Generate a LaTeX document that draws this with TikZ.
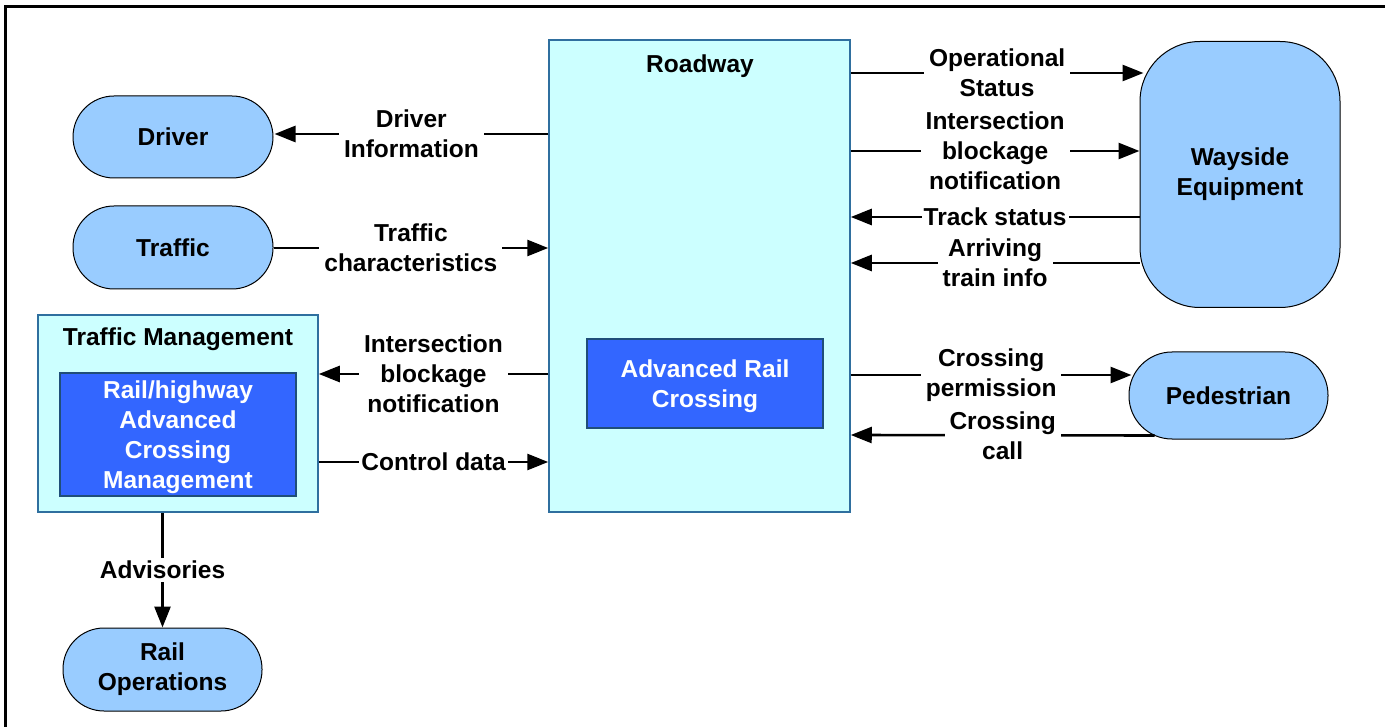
\documentclass[tikz,border=0pt]{standalone}
\usepackage{fontspec}
\setmainfont{Liberation Sans}
\usetikzlibrary{arrows.meta,calc}
\definecolor{pillfill}{HTML}{99CCFF}
\definecolor{paleaqua}{HTML}{CCFFFF}
\definecolor{royal}{HTML}{3366FF}
\definecolor{edgeblue}{HTML}{1F4E79}
\definecolor{boxedge}{HTML}{2F6F9F}

\tikzset{
  txt/.style={font=\bfseries\fontsize{24.5}{30}\selectfont, align=center},
  pillbox/.style={txt, draw=black, line width=1pt, fill=pillfill,
    rounded corners=#1, minimum width=200pt, inner sep=0pt},
  outerbox/.style={draw=boxedge, line width=1.5pt, fill=paleaqua, inner sep=0pt},
  innerbox/.style={txt, text=white, draw=edgeblue, line width=2pt, fill=royal, inner sep=0pt},
  flow/.style={line width=2.6pt, -{Triangle[length=21pt,width=16pt]}},
  lbl/.style={txt, fill=white, inner xsep=5pt, inner ysep=1pt},
  tightlbl/.style={lbl, inner xsep=2pt}
}

\begin{document}
\begin{tikzpicture}[x=1pt,y=-1pt]
\useasboundingbox (0,0) rectangle (1385,727);

% page frame
\draw[line width=3pt] (1385,6.5) -- (5.5,6.5) -- (5.5,727);

% roadway with the crossing function inside
\node[outerbox, minimum width=301pt, minimum height=472pt] (road) at (699.5,276) {};
\node[txt] (roadlbl) at (700,66) {Roadway};
\node[innerbox, minimum width=236pt, minimum height=89pt] (arc) at (705,383.5)
  {\raisebox{-2.5pt}[\height][\depth]{\parbox{230pt}{\centering Advanced Rail\\Crossing}}};

% traffic management with its crossing management function
\node[outerbox, minimum width=280pt, minimum height=197pt] (tm) at (178,413.5) {};
\node[txt] (tmlbl) at (178,339) {Traffic Management};
\node[innerbox, minimum width=236pt, minimum height=123pt] (rhacm) at (178,434.5)
  {\raisebox{-2.5pt}[\height][\depth]{\parbox{230pt}{\centering Rail/highway\\Advanced\\Crossing\\Management}}};

% terminators
\node[pillbox=41pt, minimum height=82pt] (drv) at (173,137) {Driver};
\node[pillbox=41pt, minimum height=83pt] (trf) at (173,247.5) {Traffic};
\node[pillbox=41pt, minimum width=199pt, minimum height=83pt] (rops) at (162.5,669.5) {Rail\\Operations};
\node[pillbox=60pt, minimum width=200pt, minimum height=266pt] (way) at (1240,174.5) {Wayside\\Equipment};
\node[pillbox=43pt, minimum width=199pt, minimum height=87pt] (ped) at (1228.5,395.5) {Pedestrian};

% flows on the left
\draw[flow] (road.west |- 0,134) -- ($(drv.east |- 0,134)+(1,0)$)
  node[midway, lbl] {Driver\\Information};
\draw[flow] (trf.east |- 0,248) -- (road.west |- 0,248)
  node[midway, lbl] {Traffic\\characteristics};
\draw[flow] (road.west |- 0,374) -- (tm.east |- 0,374)
  node[midway, lbl] {Intersection\\blockage\\notification};
\draw[flow] (tm.east |- 0,462) -- (road.west |- 0,462)
  node[midway, tightlbl] {Control data};
\draw[flow] (tm.south -| rops.north) -- (rops.north)
  node[midway, lbl, inner ysep=3pt] {Advisories};

% flows on the right
\draw[flow] (road.east |- 0,73) -- ($(way.west |- 0,73)+(4,0)$)
  node[midway, lbl] {Operational\\Status};
\draw[flow] (road.east |- 0,151) -- (way.west |- 0,151)
  node[midway, lbl] {Intersection\\blockage\\notification};
\draw[flow] (way.west |- 0,217) -- (road.east |- 0,217)
  node[midway, tightlbl] {Track status};
\draw[flow] (way.west |- 0,263) -- (road.east |- 0,263)
  node[midway, lbl] {Arriving\\train info};
\draw[flow] (road.east |- 0,375) -- ($(ped.west |- 0,375)+(3,0)$)
  node[midway, lbl] {Crossing\\permission};
\draw[flow] ($(ped.south)+(-74,-4)$) -- (road.east |- 0,435)
  node[midway, lbl] {Crossing\\call};
\end{tikzpicture}
\end{document}
